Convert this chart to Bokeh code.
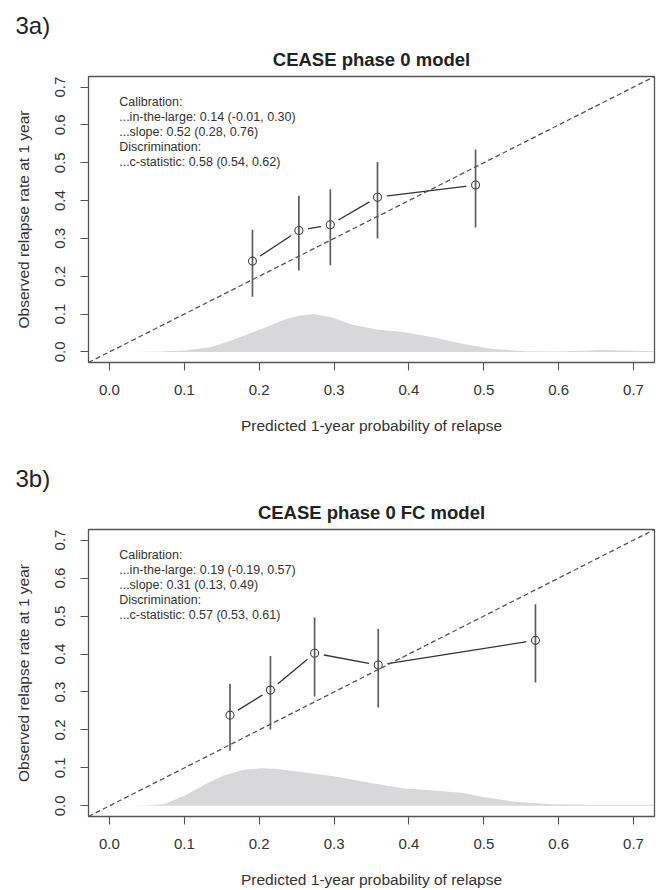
from bokeh.plotting import figure
from bokeh.layouts import column
from bokeh.models import Range1d, FixedTicker, Slope, Label, PrintfTickFormatter, Title
from bokeh.embed import file_html
from bokeh.resources import INLINE

FONT = "Liberation Sans"

# ---------------- data ----------------
tick_vals = [0.0, 0.1, 0.2, 0.3, 0.4, 0.5, 0.6, 0.7]
tick_labels = ["0.0", "0.1", "0.2", "0.3", "0.4", "0.5", "0.6", "0.7"]

x_title = "Predicted 1-year probability of relapse"
y_title = "Observed relapse rate at 1 year"

# Panel 3a
a_tag = "3a)"
a_title = "CEASE phase 0 model"
a_pred = [0.191, 0.253, 0.295, 0.358, 0.489]
a_obs = [0.240, 0.321, 0.336, 0.409, 0.441]
a_lo = [0.146, 0.215, 0.229, 0.300, 0.329]
a_hi = [0.323, 0.413, 0.430, 0.502, 0.535]
a_dens_x = [0.034, 0.070, 0.101, 0.135, 0.163, 0.197, 0.236, 0.255, 0.273, 0.298,
            0.321, 0.355, 0.394, 0.434, 0.473, 0.512, 0.557, 0.597, 0.630, 0.659,
            0.690, 0.727]
a_dens_y = [0.000, 0.001, 0.004, 0.012, 0.030, 0.056, 0.087, 0.096, 0.100, 0.091,
            0.074, 0.060, 0.052, 0.038, 0.021, 0.008, 0.002, 0.001, 0.003, 0.005,
            0.004, 0.002]
a_stats = ["Calibration:",
           "...in-the-large: 0.14 (-0.01, 0.30)",
           "...slope: 0.52 (0.28, 0.76)",
           "Discrimination:",
           "...c-statistic: 0.58 (0.54, 0.62)"]

# Panel 3b
b_tag = "3b)"
b_title = "CEASE phase 0 FC model"
b_pred = [0.161, 0.215, 0.274, 0.359, 0.569]
b_obs = [0.239, 0.305, 0.402, 0.371, 0.436]
b_lo = [0.145, 0.201, 0.288, 0.259, 0.325]
b_hi = [0.322, 0.395, 0.496, 0.466, 0.531]
b_dens_x = [0.030, 0.050, 0.073, 0.101, 0.124, 0.152, 0.180, 0.203, 0.225, 0.259,
            0.304, 0.349, 0.394, 0.439, 0.473, 0.501, 0.541, 0.586, 0.642, 0.727]
b_dens_y = [0.000, 0.001, 0.005, 0.027, 0.053, 0.080, 0.095, 0.099, 0.097, 0.0885,
            0.077, 0.060, 0.046, 0.040, 0.034, 0.023, 0.011, 0.005, 0.003, 0.003]
b_stats = ["Calibration:",
           "...in-the-large: 0.19 (-0.19, 0.57)",
           "...slope: 0.31 (0.13, 0.49)",
           "Discrimination:",
           "...c-statistic: 0.57 (0.53, 0.61)"]

INK = "#333333"
GREY = "#555555"


def panel(tag, title, pred, obs, lo, hi, dx, dy, stats, height, top, bottom):
    p = figure(width=661, height=height, output_backend="svg", toolbar_location=None,
               x_range=Range1d(-0.028, 0.728), y_range=Range1d(-0.028, 0.728),
               min_border_left=88, min_border_right=7,
               min_border_top=top, min_border_bottom=bottom)
    # outer title: panel tag
    p.title.text = tag
    p.title.align = "left"
    p.title.offset = -73
    p.title.text_font = FONT
    p.title.text_font_size = "24px"
    p.title.text_font_style = "normal"
    p.title.text_color = "#222222"
    p.title.standoff = 3
    # inner title: model name
    p.add_layout(Title(text=title, align="center", text_font=FONT,
                       text_font_size="18.5px", text_font_style="bold",
                       text_color="#222222", standoff=13), "above")

    p.grid.visible = False
    p.outline_line_color = GREY
    p.outline_line_width = 1.3
    p.background_fill_color = "white"
    p.border_fill_color = "white"

    for ax in (p.xaxis[0], p.yaxis[0]):
        ax.ticker = FixedTicker(ticks=tick_vals)
        ax.formatter = PrintfTickFormatter(format="%.1f")
        ax.major_label_overrides = dict(zip(tick_vals, tick_labels))
        ax.axis_line_color = None
        ax.major_tick_in = 0
        ax.major_tick_out = 8
        ax.major_tick_line_color = GREY
        ax.major_tick_line_width = 1.1
        ax.minor_tick_line_color = None
        ax.major_label_text_font = FONT
        ax.major_label_text_font_size = "15px"
        ax.major_label_text_color = INK
        ax.axis_label_text_font = FONT
        ax.axis_label_text_font_size = "15.5px"
        ax.axis_label_text_font_style = "normal"
        ax.axis_label_text_color = INK

    p.xaxis.axis_label = x_title
    p.xaxis.major_label_standoff = 14
    p.xaxis.axis_label_standoff = 19
    p.yaxis.axis_label = y_title
    p.yaxis.major_label_orientation = "vertical"
    p.yaxis.major_label_standoff = 15
    p.yaxis.axis_label_standoff = 21

    # density of predictions
    p.varea(x=dx, y1=[0] * len(dx), y2=dy, fill_color="#d8d8da")

    # calibration curve (type="b" look: line with gaps around points)
    p.line(pred, obs, line_color=INK, line_width=1.3)
    p.scatter(pred, obs, size=19, marker="circle", fill_color="white", line_color=None)

    # ideal line
    p.add_layout(Slope(gradient=1, y_intercept=0, line_color=GREY, line_width=1.3,
                       line_dash="5 3"))

    # confidence intervals
    p.segment(x0=pred, y0=lo, x1=pred, y1=hi, line_color="#5e5e5e", line_width=1.7)
    p.scatter(pred, obs, size=8, marker="circle", fill_color=None,
              line_color="#444444", line_width=1.1)

    # statistics text
    p.add_layout(Label(x=0.013, y=0.680, text="\n".join(stats), text_font=FONT,
                       text_font_size="12.5px", text_color=INK, text_baseline="top",
                       text_align="left", text_line_height=1.07))
    return p


pa = panel(a_tag, a_title, a_pred, a_obs, a_lo, a_hi, a_dens_x, a_dens_y, a_stats,
           450, 76, 88)
pb = panel(b_tag, b_title, b_pred, b_obs, b_lo, b_hi, b_dens_x, b_dens_y, b_stats,
           440, 79, 73)

layout = column(pa, pb, spacing=0)
open("out.html", "w").write(file_html(layout, INLINE))
